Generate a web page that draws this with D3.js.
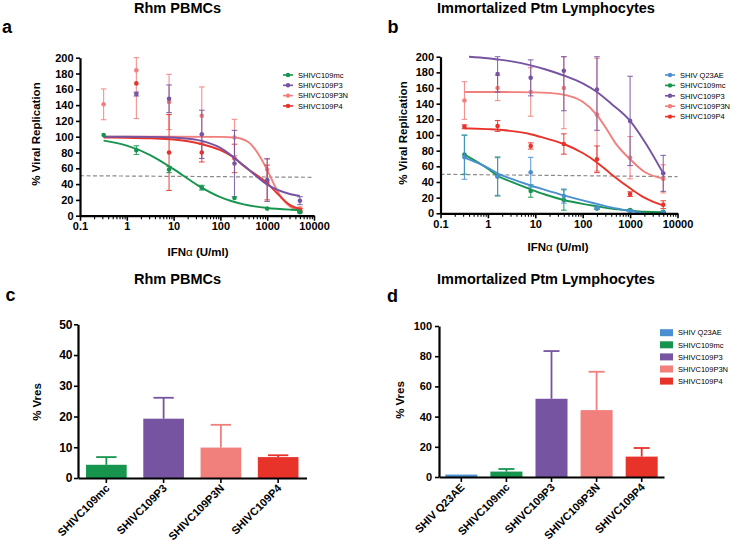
<!DOCTYPE html>
<html><head><meta charset="utf-8">
<script src="https://cdn.jsdelivr.net/npm/d3@7"></script>
<style>
body{margin:0;background:#fff}
svg{display:block}
text{font-family:"Liberation Sans",Arial,Helvetica,sans-serif}
</style>
</head><body>
<svg id="chart" width="734" height="545"></svg>
<script>
// ---------------- DATA ----------------
const doses = [0.32, 1.6, 8, 40, 200, 1000, 5000];
const xMajorTicks = [0.1, 1, 10, 100, 1000, 10000];
const xTickLabels = ["0.1", "1", "10", "100", "1000", "10000"];
const yTicksRep = [0, 20, 40, 60, 80, 100, 120, 140, 160, 180, 200];

// colours
const cBlue = "#4a90d0", cGreen = "#17954f", cPurple = "#7654a2", cSalmon = "#f17f7c", cRed = "#e8332b";

// Panel a : Rhm PBMCs
const namesA = ["SHIVC109mc", "SHIVC109P3", "SHIVC109P3N", "SHIVC109P4"];
const colorsA = [cGreen, cPurple, cSalmon, cRed];
const meanA_mc  = [102, 83, 58.5, 35.5, 22.5, 9, 4.3];
const sdA_mc    = [0, 5.5, 4, 3, 0, 0, 1];
const meanA_P3  = [null, 154, 148, 103, 66, 45, 19];
const sdA_P3    = [null, 2.5, 17.5, 30.5, 42, 27, 5];
const meanA_P3N = [141, 184, 144, 126.5, 99, 58.5, 9];
const sdA_P3N   = [19.5, 61, 35, 36.5, 23, 13.5, 2];
const meanA_P4  = [null, 167.5, 80, 80, 72.5, 42, 7];
const sdA_P4    = [null, 0, 48, 12, 18, 22, 2];
// fitted curves: [dose, value]
const curveA_mc  = [[0.32,95],[1,88.6],[3.16,76.8],[10,58.9],[31.6,39.1],[100,23.5],[316,14.3],[1000,9.7],[3162,7.6],[5000,7.1]];
const curveA_P3  = [[0.32,100],[1,100],[3.16,99.8],[10,98.9],[31.6,95.9],[100,85.8],[316,63.4],[1000,39.3],[3162,27.2],[5000,25]];
const curveA_P3N = [[0.32,100],[1,100],[10,100],[100,99.8],[200,99],[400,93],[600,81],[1000,58],[1500,36],[2000,23],[3162,11],[5000,7]];
const curveA_P4  = [[0.32,99],[1,98.7],[3.16,98],[10,96.5],[31.6,92],[100,83],[200,73],[316,63],[1000,41],[2000,23],[3162,13],[5000,8.5]];
const cutoffA = [[0.1, 50.6], [10000, 48.6]];

// Panel b : Immortalized Ptm Lymphocytes
const namesB = ["SHIV Q23AE", "SHIVC109mc", "SHIVC109P3", "SHIVC109P3N", "SHIVC109P4"];
const colorsB = [cBlue, cGreen, cPurple, cSalmon, cRed];
const meanB_Q23 = [71.5, 47, 52.5, 22, 7, 3, 1];
const sdB_Q23   = [28, 24, 19, 9, 1.5, 1, 0.5];
const meanB_mc  = [75, 47, 28.5, 17, 6, 4, 2];
const sdB_mc    = [25, 25, 8, 13, 1, 1, 0.5];
const meanB_P3  = [null, 178, 173, 182, 158, 118, 51];
const sdB_P3    = [null, 23, 23, 51, 52, 57, 23];
const meanB_P3N = [144, 160, 155, 160, 126, 71, 44];
const sdB_P3N   = [24, 16, 31, 52, 72, 27, 18];
const meanB_P4  = [110.5, 111.5, 86, 88.5, 69, 24.5, 11];
const sdB_P4    = [2.5, 7, 4, 13, 17, 3, 5];
const curveB_Q23 = [[0.32,71],[1,58],[1.6,51],[3.16,44],[8,35.5],[16,30],[40,23],[100,16.5],[200,12],[400,7.5],[1000,3],[2000,0]];
const curveB_mc  = [[0.32,75],[1,57],[1.6,48],[3.16,40],[8,30.5],[16,24],[40,17],[100,12],[200,9],[400,6],[1000,3.5],[2000,2],[5000,1.5]];
const curveB_P3  = [[0.4,200],[1,198],[1.6,196.5],[3.16,194],[8,189],[16,184],[40,176],[100,166],[200,155],[400,140],[1000,118],[2000,92],[5000,51]];
const curveB_P3N = [[0.32,155],[1,155],[3.16,154.8],[10,154.5],[31.6,152.5],[100,142.4],[200,125.5],[316,108],[500,89],[1000,69],[2000,53],[5000,44.5]];
const curveB_P4  = [[0.32,108.5],[1,107.5],[1.6,107],[3.16,105],[8,101],[16,96],[40,88.5],[100,77],[200,65],[400,50],[1000,32],[2000,20],[5000,10]];
const cutoffB = [[0.1, 49.8], [10000, 46.8]];

// Panel c : Rhm PBMCs % Vres
const catsC = ["SHIVC109mc", "SHIVC109P3", "SHIVC109P3N", "SHIVC109P4"];
const valsC = [4.3, 19.3, 9.9, 6.8];
const errC  = [2.5, 6.8, 7.4, 0.6];
const colorsC = [cGreen, cPurple, cSalmon, cRed];
const yTicksC = [0, 10, 20, 30, 40, 50];

// Panel d : Immortalized Ptm Lymphocytes % Vres
const catsD = ["SHIV Q23AE", "SHIVC109mc", "SHIVC109P3", "SHIVC109P3N", "SHIVC109P4"];
const valsD = [1.6, 3.6, 51.8, 44.3, 13.5];
const errD  = [0, 1.7, 31.6, 25.4, 5.7];
const colorsD = [cBlue, cGreen, cPurple, cSalmon, cRed];
const yTicksD = [0, 20, 40, 60, 80, 100];

// ---------------- DRAWING ----------------
const svg = d3.select("#chart");

function text(x, y, s, opts = {}) {
  const t = svg.append("text").attr("x", x).attr("y", y).text(s)
    .attr("font-size", opts.size || 11)
    .attr("font-weight", opts.weight || "bold")
    .attr("text-anchor", opts.anchor || "start")
    .attr("fill", "#000");
  if (opts.transform) t.attr("transform", opts.transform).attr("x", 0).attr("y", 0);
  return t;
}

function styleAxis(g, fs) {
  g.select(".domain").attr("stroke", "#000").attr("stroke-width", 2.2);
  g.selectAll(".tick line").attr("stroke", "#000").attr("stroke-width", 1.6);
  g.selectAll(".tick text").attr("font-size", fs || 11).attr("font-weight", "bold")
    .attr("font-family", '"Liberation Sans",Arial,sans-serif').attr("fill", "#000");
}

function linePanel(o) {
  const x = d3.scaleLog().domain([0.1, 10000]).range(o.xr);
  const y = d3.scaleLinear().domain([0, 200]).range(o.yr);
  const g = svg.append("g");
  const clipId = o.id + "-clip";
  svg.append("clipPath").attr("id", clipId).append("rect")
    .attr("x", o.xr[0]).attr("y", o.yr[1] - 2)
    .attr("width", o.xr[1] - o.xr[0] + 4).attr("height", o.yr[0] - o.yr[1] + 2);

  g.append("path").datum(o.cutoff)
    .attr("d", d3.line().x(d => x(d[0])).y(d => y(d[1])))
    .attr("stroke", "#8a8a8a").attr("stroke-width", 1.2).attr("stroke-dasharray", "4,2.5").attr("fill", "none");

  o.drawOrder.forEach(i => {
    const s = o.series[i];
    const lg = g.append("g");
    lg.append("path").datum(s.curve)
      .attr("clip-path", `url(#${clipId})`)
      .attr("d", d3.line().x(d => x(d[0])).y(d => y(d[1])).curve(d3.curveMonotoneX))
      .attr("fill", "none").attr("stroke", s.color).attr("stroke-width", 1.9);
    const pts = doses.map((d, k) => ({ d, m: s.mean[k], sd: s.sd[k] })).filter(p => p.m != null);
    pts.forEach(p => {
      if (p.sd > 0) {
        const hi = Math.min(200, p.m + p.sd), lo = Math.max(0, p.m - p.sd);
        const cx = x(p.d);
        lg.append("line").attr("x1", cx).attr("x2", cx).attr("y1", y(hi)).attr("y2", y(lo))
          .attr("stroke", s.color).attr("stroke-width", 1.1).attr("opacity", 0.85);
        [hi, lo].forEach(v => lg.append("line").attr("x1", cx - 2.8).attr("x2", cx + 2.8)
          .attr("y1", y(v)).attr("y2", y(v)).attr("stroke", s.color).attr("stroke-width", 1.1).attr("opacity", 0.85));
      }
    });
    lg.selectAll("circle.pt").data(pts).join("circle").attr("class", "pt")
      .attr("cx", p => x(p.d)).attr("cy", p => y(p.m)).attr("r", 2.3).attr("fill", s.color);
  });

  const ya = svg.append("g").attr("transform", `translate(${o.xr[0]},0)`)
    .call(d3.axisLeft(y).tickValues(yTicksRep).tickSize(4).tickPadding(2.5).tickSizeOuter(0));
  styleAxis(ya);
  const allTicks = [];
  for (let e = -1; e <= 4; e++) for (let m = 1; m <= 9; m++) { const v = m * Math.pow(10, e); if (v <= 10000 * 1.0001) allTicks.push(v); }
  const isMajor = v => xMajorTicks.findIndex(t => Math.abs(t - v) / t < 1e-6);
  const xa = svg.append("g").attr("transform", `translate(0,${o.yr[0]})`)
    .call(d3.axisBottom(x).tickValues(allTicks).tickSize(5).tickPadding(2).tickSizeOuter(0)
      .tickFormat(v => { const i = isMajor(v); return i >= 0 ? xTickLabels[i] : ""; }));
  styleAxis(xa);
  xa.selectAll(".tick").filter(v => isMajor(v) < 0)
    .select("line").attr("y2", 3.5).attr("stroke-width", 1.1);

  o.series.forEach((s, i) => {
    const ly = o.legY + i * o.legDy;
    svg.append("line").attr("x1", o.legX).attr("x2", o.legX + 10).attr("y1", ly).attr("y2", ly)
      .attr("stroke", s.color).attr("stroke-width", 1.6);
    svg.append("circle").attr("cx", o.legX + 5).attr("cy", ly).attr("r", 2.2).attr("fill", s.color);
    text(o.legX + 15, ly + 2.7, s.name, { size: 7.5, weight: "normal" });
  });
}

function barPanel(o) {
  const x = d3.scaleBand().domain(o.cats).range(o.xr).paddingInner(0.29).paddingOuter(0.14);
  const y = d3.scaleLinear().domain([0, o.ymax]).range(o.yr);
  const g = svg.append("g");
  const bw = x.bandwidth();
  o.cats.forEach((c, i) => {
    const v = o.vals[i], e = o.errs[i], col = o.colors[i];
    if (e > 0) {
      const cx = x(c) + bw / 2;
      g.append("line").attr("x1", cx).attr("x2", cx).attr("y1", y(v)).attr("y2", y(v + e))
        .attr("stroke", col).attr("stroke-width", 1.8);
      g.append("line").attr("x1", cx - bw / 4).attr("x2", cx + bw / 4).attr("y1", y(v + e)).attr("y2", y(v + e))
        .attr("stroke", col).attr("stroke-width", 1.8);
    }
    g.append("rect").attr("x", x(c)).attr("y", y(v)).attr("width", bw).attr("height", y(0) - y(v)).attr("fill", col);
  });
  const ya = svg.append("g").attr("transform", `translate(${o.xr[0]},0)`)
    .call(d3.axisLeft(y).tickValues(o.yticks).tickSize(4).tickPadding(o.ypad).tickSizeOuter(0));
  styleAxis(ya, o.tickFs);
  const xa = svg.append("g").attr("transform", `translate(0,${o.yr[0]})`)
    .call(d3.axisBottom(x).tickSize(5).tickSizeOuter(0).tickFormat(""));
  styleAxis(xa);
  o.cats.forEach(c => {
    const cx = x(c) + bw / 2;
    text(0, 0, c, { size: 11, anchor: "end", transform: `translate(${cx + 4},${o.yr[0] + 11}) rotate(-45)` });
  });
}

// titles & panel letters
text(177.5, 12.5, "Rhm PBMCs", { size: 14.5, anchor: "middle" });
text(546, 12.5, "Immortalized Ptm Lymphocytes", { size: 14.5, anchor: "middle" });
text(177.5, 284, "Rhm PBMCs", { size: 14.5, anchor: "middle" });
text(546, 284, "Immortalized Ptm Lymphocytes", { size: 14.5, anchor: "middle" });
text(2, 33, "a", { size: 18 });
text(387.5, 33, "b", { size: 18 });
text(5.5, 301, "c", { size: 18 });
text(387, 301.5, "d", { size: 18 });

// axis titles
text(0, 0, "% Viral Replication", { size: 11.5, anchor: "middle", transform: "translate(39.5,134) rotate(-90)" });
text(0, 0, "% Viral Replication", { size: 11.5, anchor: "middle", transform: "translate(406.5,133) rotate(-90)" });
text(0, 0, "% Vres", { size: 11.5, anchor: "middle", transform: "translate(40.5,402) rotate(-90)" });
text(0, 0, "% Vres", { size: 11.5, anchor: "middle", transform: "translate(403.5,400) rotate(-90)" });
[[198, 256], [558, 251]].forEach(([cx, by]) => {
  const t = text(cx, by, "", { size: 11.5, anchor: "middle" });
  t.append("tspan").text("IFN");
  t.append("tspan").attr("font-weight", "normal").text("α");
  t.append("tspan").text(" (U/ml)");
});

linePanel({
  id: "a", xr: [80, 314], yr: [215.7, 57.7], cutoff: cutoffA,
  series: [
    { name: namesA[0], color: colorsA[0], mean: meanA_mc, sd: sdA_mc, curve: curveA_mc },
    { name: namesA[1], color: colorsA[1], mean: meanA_P3, sd: sdA_P3, curve: curveA_P3 },
    { name: namesA[2], color: colorsA[2], mean: meanA_P3N, sd: sdA_P3N, curve: curveA_P3N },
    { name: namesA[3], color: colorsA[3], mean: meanA_P4, sd: sdA_P4, curve: curveA_P4 }
  ],
  drawOrder: [2, 3, 1, 0],
  legX: 283, legY: 75, legDy: 10.3
});

linePanel({
  id: "b", xr: [440.5, 677.5], yr: [213.3, 56.7], cutoff: cutoffB,
  series: [
    { name: namesB[0], color: colorsB[0], mean: meanB_Q23, sd: sdB_Q23, curve: curveB_Q23 },
    { name: namesB[1], color: colorsB[1], mean: meanB_mc, sd: sdB_mc, curve: curveB_mc },
    { name: namesB[2], color: colorsB[2], mean: meanB_P3, sd: sdB_P3, curve: curveB_P3 },
    { name: namesB[3], color: colorsB[3], mean: meanB_P3N, sd: sdB_P3N, curve: curveB_P3N },
    { name: namesB[4], color: colorsB[4], mean: meanB_P4, sd: sdB_P4, curve: curveB_P4 }
  ],
  drawOrder: [3, 2, 4, 1, 0],
  legX: 665, legY: 75, legDy: 10.4
});

barPanel({ cats: catsC, vals: valsC, errs: errC, colors: colorsC, xr: [78, 306.5], yr: [478, 324.3], ymax: 50, yticks: yTicksC, ypad: 1.5, tickFs: 12 });
barPanel({ cats: catsD, vals: valsD, errs: errD, colors: colorsD, xr: [439, 664], yr: [477, 326], ymax: 100, yticks: yTicksD, ypad: 3, tickFs: 11 });

// legend d
namesB.forEach((n, i) => {
  const ly = 332.7 + i * 12.1;
  svg.append("rect").attr("x", 660).attr("y", ly - 3.5).attr("width", 13).attr("height", 7).attr("fill", colorsD[i]);
  text(678, ly + 2.7, n, { size: 7.5, weight: "normal" });
});
</script>
</body></html>
